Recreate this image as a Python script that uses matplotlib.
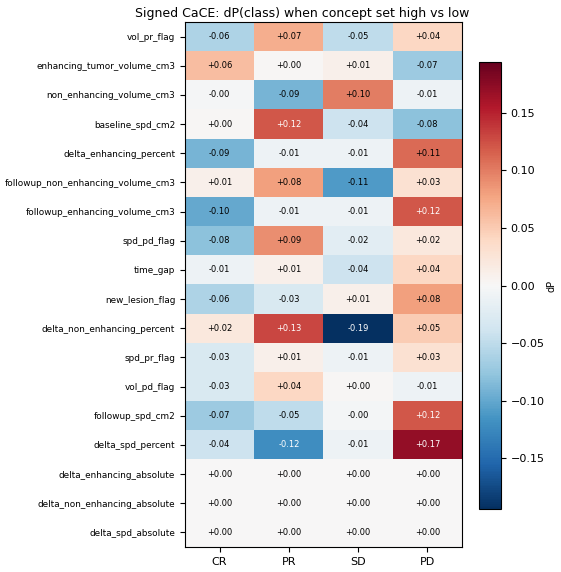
import numpy as np
import matplotlib
matplotlib.use("Agg")
import matplotlib.pyplot as plt

concepts = [
    "vol_pr_flag", "enhancing_tumor_volume_cm3", "non_enhancing_volume_cm3",
    "baseline_spd_cm2", "delta_enhancing_percent", "followup_non_enhancing_volume_cm3",
    "followup_enhancing_volume_cm3", "spd_pd_flag", "time_gap", "new_lesion_flag",
    "delta_non_enhancing_percent", "spd_pr_flag", "vol_pd_flag", "followup_spd_cm2",
    "delta_spd_percent", "delta_enhancing_absolute", "delta_non_enhancing_absolute",
    "delta_spd_absolute",
]
classes = ["CR", "PR", "SD", "PD"]

cr = [-0.06, 0.06, -0.002, 0.002, -0.09, 0.01, -0.10, -0.08, -0.01, -0.06,
      0.02, -0.03, -0.03, -0.07, -0.04, 0.0, 0.0, 0.0]
pr = [0.07, 0.002, -0.09, 0.12, -0.01, 0.08, -0.01, 0.09, 0.01, -0.03,
      0.13, 0.01, 0.04, -0.05, -0.12, 0.0, 0.0, 0.0]
sd = [-0.05, 0.01, 0.10, -0.04, -0.01, -0.11, -0.01, -0.02, -0.04, 0.01,
      -0.194, -0.01, 0.002, -0.004, -0.01, 0.0, 0.0, 0.0]
pd_ = [0.04, -0.07, -0.01, -0.08, 0.11, 0.03, 0.12, 0.02, 0.04, 0.08,
       0.05, 0.03, -0.01, 0.12, 0.17, 0.0, 0.0, 0.0]

data = np.array([cr, pr, sd, pd_]).T
vmax = np.abs(data).max()

fig = plt.figure(figsize=(5.61, 5.72), dpi=100)
ax = fig.add_axes([185/561, 1-547/572, (462-185)/561, (547-22)/572])
cax = fig.add_axes([479/561, 1-509/572, (501-479)/561, (509-62)/572])

im = ax.imshow(data, cmap="RdBu_r", vmin=-vmax, vmax=vmax, aspect="auto")
for i in range(data.shape[0]):
    for j in range(data.shape[1]):
        v = data[i, j]
        col = "white" if abs(v) > 0.115 else "black"
        ax.text(j, i, f"{v:+.2f}", ha="center", va="center", fontsize=6, color=col)

ax.set_xticks(range(len(classes)))
ax.set_xticklabels(classes, fontsize=8)
ax.set_yticks(range(len(concepts)))
ax.set_yticklabels(concepts, fontsize=6.4)
fig.text(302/561, 1-13/572, "Signed CaCE: dP(class) when concept set high vs low",
         fontsize=9, ha="center", va="center")

cb = fig.colorbar(im, cax=cax)
cb.ax.tick_params(labelsize=8)
cb.set_label("dP", fontsize=7, labelpad=1)

fig.savefig("out.png", dpi=100)
